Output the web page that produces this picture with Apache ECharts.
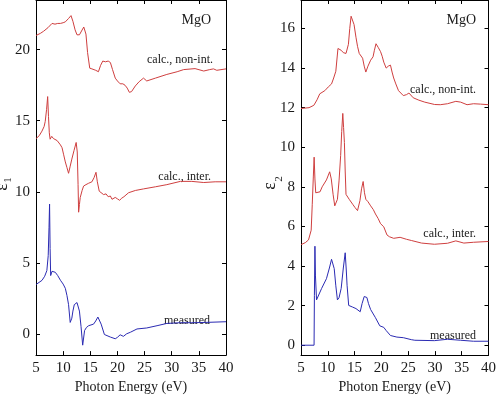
<!DOCTYPE html>
<html>
<head>
<meta charset="utf-8">
<script src="https://cdn.jsdelivr.net/npm/echarts@6/dist/echarts.min.js"></script>
<style>html,body{margin:0;padding:0;background:#fff}#c{width:499px;height:399px}</style>
</head>
<body>
<div id="c"></div>
<script>
// Photon energy (eV), value pairs
const eps1NonInt = [[5,21.0],[5.8,21.15],[6.4,21.3],[7.2,21.55],[7.95,21.85],[8.5,21.8],[9.0,21.85],[9.5,21.85],[10.0,21.9],[10.4,21.96],[11.0,22.2],[11.45,22.4],[11.8,22.0],[12.2,21.4],[12.55,21.05],[13.0,21.05],[13.3,21.05],[13.8,21.6],[14.2,21.1],[14.5,19.8],[14.9,18.7],[15.3,18.65],[15.6,18.7],[16.0,18.55],[16.2,18.6],[16.5,18.45],[16.9,18.9],[17.3,19.2],[17.8,19.15],[18.3,19.2],[18.7,19.1],[19.1,18.6],[19.6,18.0],[20.0,17.8],[20.5,17.6],[21.0,17.6],[21.4,17.5],[21.8,17.3],[22.2,17.0],[22.6,17.05],[23.3,17.45],[24.0,17.75],[24.8,18.0],[25.4,17.8],[27.0,18.0],[29.1,18.26],[31.0,18.45],[32.2,18.6],[34.3,18.67],[35.9,18.5],[37.0,18.6],[37.7,18.65],[38.3,18.55],[40,18.65]];
const eps1Inter = [[5,13.74],[5.6,13.95],[6.1,14.27],[6.5,14.6],[6.7,14.95],[6.95,15.8],[7.15,16.7],[7.3,15.3],[7.45,14.15],[7.6,13.7],[7.9,13.9],[8.2,13.75],[8.55,13.8],[8.9,13.6],[9.2,13.5],[9.5,13.3],[9.8,13.1],[10.1,12.6],[10.4,12.1],[10.7,11.7],[11.0,11.3],[11.3,11.8],[11.6,12.3],[12.0,12.9],[12.4,13.47],[12.6,12.8],[12.75,10.5],[12.85,8.56],[13.0,9.1],[13.15,9.6],[13.5,10.1],[13.77,10.4],[14.2,10.5],[14.7,10.6],[15.3,10.7],[15.7,11.0],[16.05,11.37],[16.3,10.7],[16.65,10.04],[17.0,9.95],[17.45,9.8],[17.9,9.85],[18.3,9.65],[18.7,9.7],[19.0,9.47],[19.6,9.6],[20.0,9.5],[20.4,9.4],[20.8,9.55],[21.2,9.65],[22.05,9.93],[23.3,10.09],[24.8,10.2],[27.0,10.35],[29.1,10.5],[31.6,10.73],[33.7,10.73],[35.9,10.65],[38.0,10.7],[40,10.7]];
const eps1Measured = [[5,3.47],[6.1,3.76],[6.6,4.05],[7.0,4.45],[7.25,5.5],[7.4,7.5],[7.5,9.13],[7.6,6.0],[7.7,4.1],[7.95,4.4],[8.55,4.33],[9.0,4.1],[9.5,3.77],[10.0,3.5],[10.4,3.2],[10.7,2.7],[11.0,2.05],[11.3,0.8],[11.6,1.1],[11.8,1.6],[12.05,2.05],[12.55,2.2],[13.0,1.6],[13.3,0.5],[13.6,-0.8],[13.95,0.23],[14.3,0.45],[14.7,0.57],[15.6,0.68],[16.0,0.9],[16.4,1.18],[17.0,0.68],[17.6,-0.05],[18.7,-0.23],[19.6,-0.35],[20.0,-0.25],[20.5,-0.07],[21.1,-0.18],[21.7,0.0],[22.4,0.11],[23.6,0.34],[25.4,0.41],[27.3,0.57],[29.1,0.73],[31.6,0.78],[33.7,0.78],[36.2,0.8],[40,0.85]];
const eps2NonInt = [[5,11.96],[6.5,12.0],[7.4,12.12],[8.0,12.4],[8.5,12.7],[9.45,12.86],[10.1,13.05],[10.7,13.2],[11.1,13.5],[11.5,13.84],[11.9,14.99],[12.2,14.95],[12.5,14.9],[12.9,14.78],[13.4,14.74],[13.85,15.2],[14.1,16.0],[14.35,16.62],[14.65,16.66],[14.9,16.2],[15.26,15.56],[15.55,15.1],[15.87,14.74],[16.2,14.65],[16.5,14.5],[16.8,14.1],[17.1,13.8],[17.5,14.1],[18.0,14.4],[18.45,14.57],[18.7,14.9],[19.0,15.23],[19.4,15.05],[19.85,14.83],[20.15,14.6],[20.45,14.3],[20.9,14.0],[21.3,14.1],[21.7,14.15],[22.0,13.8],[22.3,13.5],[22.7,13.2],[23.2,12.86],[24.1,12.61],[24.7,12.66],[25.15,12.74],[25.95,12.5],[27.0,12.38],[28.1,12.28],[29.95,12.16],[31.0,12.15],[32.35,12.2],[33.9,12.32],[34.8,12.28],[36.0,12.15],[37.2,12.2],[38.5,12.18],[40,12.15]];
const eps2Inter = [[5,5.08],[5.8,5.18],[6.4,5.32],[6.9,5.81],[7.1,7.12],[7.3,8.5],[7.45,9.5],[7.6,8.4],[7.75,7.7],[8.1,7.6],[8.55,7.75],[8.95,8.0],[9.3,8.1],[9.75,8.35],[10.35,8.76],[10.65,8.4],[11.0,7.6],[11.3,7.04],[11.8,7.37],[12.1,8.3],[12.4,9.58],[12.6,10.8],[12.8,11.71],[12.95,11.0],[13.1,10.24],[13.25,8.8],[13.4,7.62],[14.0,7.37],[14.65,7.12],[15.1,6.95],[15.55,6.8],[16.0,7.3],[16.3,7.9],[16.6,8.27],[16.85,7.7],[17.1,7.37],[17.5,7.25],[18.0,7.04],[18.5,6.85],[18.9,6.63],[19.4,6.4],[19.85,6.14],[20.45,5.98],[21.05,5.57],[21.5,5.48],[22.3,5.4],[23.5,5.45],[24.7,5.35],[25.6,5.29],[27.5,5.16],[29.9,5.1],[32.35,5.15],[33.9,5.27],[35.4,5.16],[37.2,5.2],[40,5.24]];
const eps2Measured = [[5,0],[7.44,0],[7.5,2.5],[7.6,5.0],[7.7,3.5],[7.9,2.29],[8.85,2.87],[9.75,3.36],[10.3,3.9],[10.7,4.34],[11.2,3.87],[11.5,3.0],[11.8,2.29],[12.1,2.4],[12.5,2.87],[12.9,3.9],[13.25,4.67],[13.45,3.8],[13.6,3.03],[13.9,2.01],[14.6,1.93],[15.26,1.85],[16.05,1.69],[16.4,2.1],[16.8,2.46],[17.3,2.41],[17.6,2.1],[18.0,1.8],[18.9,1.39],[19.7,0.98],[20.45,0.9],[20.9,0.74],[21.7,0.49],[22.9,0.41],[24.1,0.38],[25.6,0.28],[26.25,0.25],[29.9,0.23],[32.35,0.3],[34.8,0.25],[37.2,0.2],[40,0.2]];

const eps1Ticks = [0, 5, 10, 15, 20];
const eps2Ticks = [0, 2, 4, 6, 8, 10, 12, 14, 16];
const xName = 'Photon Energy (eV)';
const curveLabels = ['calc., non-int.', 'calc., inter.', 'measured'];
const title = 'MgO';

const FONT = 'Liberation Serif';
const TXT = '#1a1a1a';
const RED = '#cf3f3f';
const BLUE = '#2b2bb3';

function xAx(grid, pos, show) {
  return {
    type: 'value', gridIndex: grid, position: pos, min: 5, max: 40, interval: 5,
    axisLine: { show: true, onZero: false, lineStyle: { color: '#000', width: 1 } },
    axisTick: { show: true, inside: true, length: 4, lineStyle: { color: '#000' } },
    axisLabel: { show: show, margin: 5, fontFamily: FONT, fontSize: 15, color: TXT },
    splitLine: { show: false },
    name: show ? xName : '', nameLocation: 'middle', nameGap: 19,
    nameTextStyle: { fontFamily: FONT, fontSize: 14, color: TXT }
  };
}
function yAx(grid, pos, show, min, max, ticks) {
  return {
    type: 'value', gridIndex: grid, position: pos, min: min, max: max,
    axisLine: { show: true, onZero: false, lineStyle: { color: '#000', width: 1 } },
    axisTick: { show: true, inside: true, length: 4, customValues: ticks, lineStyle: { color: '#000' } },
    axisLabel: { show: show, margin: 6, customValues: ticks, fontFamily: FONT, fontSize: 15, color: TXT },
    splitLine: { show: false }
  };
}
function line(data, color, xi, yi) {
  return { type: 'line', data: data, xAxisIndex: xi, yAxisIndex: yi, showSymbol: false, symbol: 'none',
    lineStyle: { color: color, width: 1 }, itemStyle: { color: color }, animation: false, silent: true };
}
function label(text, x, y, size) {
  return { type: 'text', x: x, y: y, silent: true,
    style: { text: text, textAlign: 'right', textVerticalAlign: 'middle', fontFamily: FONT, fontSize: size, fill: TXT } };
}
function rot(text, x, y, size) {
  return { type: 'text', x: x, y: y, rotation: Math.PI / 2, silent: true,
    style: { text: text, textAlign: 'center', textVerticalAlign: 'middle', fontFamily: FONT, fontSize: size, fill: TXT } };
}

const chart = echarts.init(document.getElementById('c'), null, { renderer: 'canvas' });
chart.setOption({
  animation: false,
  backgroundColor: '#fff',
  grid: [
    { left: 36, right: 273, top: 0, bottom: 34 },
    { left: 301, right: 7, top: 0, bottom: 34 }
  ],
  xAxis: [xAx(0, 'bottom', true), xAx(0, 'top', false), xAx(1, 'bottom', true), xAx(1, 'top', false)],
  yAxis: [
    yAx(0, 'left', true, -1.5, 23.5, eps1Ticks), yAx(0, 'right', false, -1.5, 23.5, eps1Ticks),
    yAx(1, 'left', true, -0.5, 17.44, eps2Ticks), yAx(1, 'right', false, -0.5, 17.44, eps2Ticks)
  ],
  series: [
    line(eps1NonInt, RED, 0, 0), line(eps1Inter, RED, 0, 0), line(eps1Measured, BLUE, 0, 0),
    line(eps2NonInt, RED, 2, 2), line(eps2Inter, RED, 2, 2), line(eps2Measured, BLUE, 2, 2)
  ],
  graphic: [
    label(title, 211, 20, 14),
    label(curveLabels[0], 213, 60, 12),
    label(curveLabels[1], 211, 177, 12),
    label(curveLabels[2], 210, 321, 12),
    label(title, 476, 20, 14),
    label(curveLabels[0], 476, 90, 12),
    label(curveLabels[1], 476, 234, 12),
    label(curveLabels[2], 476, 336, 12),
    rot('ε', 2, 187, 18), rot('1', 8, 180, 11),
    rot('ε', 270, 186, 18), rot('2', 279, 179, 11)
  ]
});
</script>
</body>
</html>
